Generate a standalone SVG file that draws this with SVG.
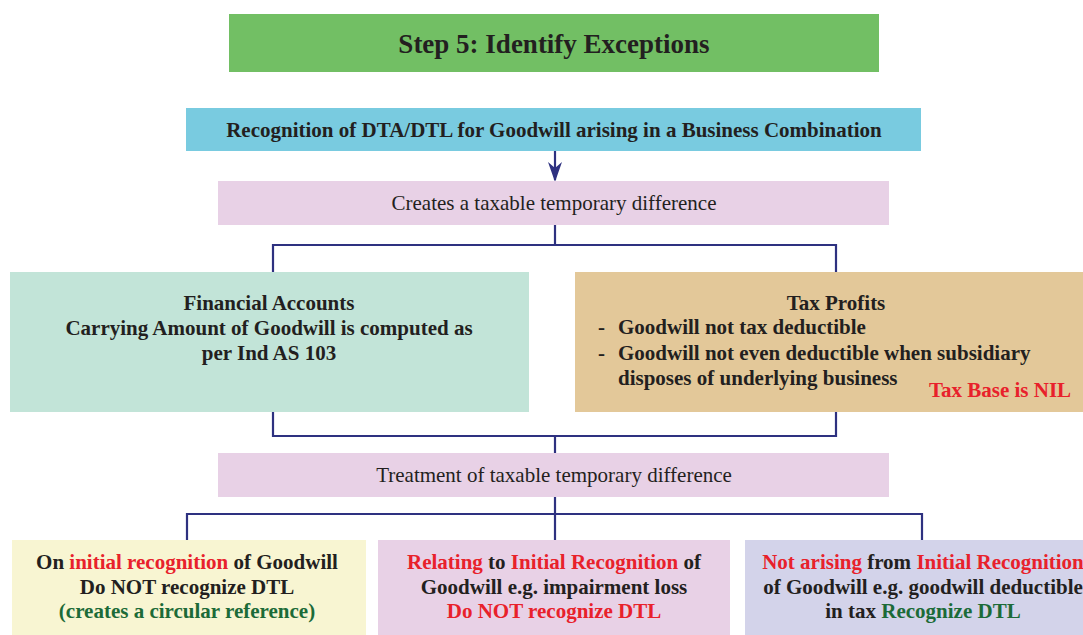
<svg xmlns="http://www.w3.org/2000/svg" width="1083" height="635" viewBox="0 0 1083 635">
<style>
text{font-family:"Liberation Serif","DejaVu Serif",serif;fill:#231f20;text-anchor:middle;}
.b{font-weight:bold;font-size:21px;}
.n{font-size:21px;}
.r{fill:#e8212b;}
.g{fill:#1c6b38;}
.ln{fill:none;stroke:#2e3180;stroke-width:2.2;}
</style>
<defs>
<marker id="ah" viewBox="0 0 10 10" refX="9" refY="5" markerWidth="20" markerHeight="14" markerUnits="userSpaceOnUse" orient="auto" preserveAspectRatio="none">
<path d="M0,0 L10,5 L0,10 L3,5 z" fill="#2e3180"/>
</marker>
</defs>
<rect width="1083" height="635" fill="#ffffff"/>
<g id="connectors">
<line class="ln" x1="555" y1="151" x2="555" y2="180" marker-end="url(#ah)"/>
<path class="ln" d="M555,225 V245 M273,272 V245 H836 V272"/>
<path class="ln" d="M273,412 V436 H836 V412 M555,436 V453"/>
<path class="ln" d="M555,497 V514 M187,540 V514 H922 V540 M555,514 V540"/>
</g>
<g id="title">
<rect x="229" y="14" width="650" height="58" fill="#72bf64"/>
<text class="b" x="554" y="53" style="font-size:27px">Step 5: Identify Exceptions</text>
</g>
<g id="recognition">
<rect x="186" y="108" width="735" height="43" fill="#79cbe0"/>
<text class="b" x="554" y="137">Recognition of DTA/DTL for Goodwill arising in a Business Combination</text>
</g>
<g id="creates">
<rect x="218" y="181" width="671" height="44" fill="#e8d1e6"/>
<text class="n" x="554" y="210">Creates a taxable temporary difference</text>
</g>
<g id="financial">
<rect x="10" y="272" width="519" height="140" fill="#c2e4d8"/>
<text class="b" x="269" y="310">Financial Accounts</text>
<text class="b" x="269" y="335">Carrying Amount of Goodwill is computed as</text>
<text class="b" x="269" y="360">per Ind AS 103</text>
</g>
<g id="tax">
<rect x="575" y="272" width="508" height="140" fill="#e3c899"/>
<text class="b" x="836" y="310">Tax Profits</text>
<text class="b" x="598" y="334" style="text-anchor:start">-</text>
<text class="b" x="618" y="334" style="text-anchor:start">Goodwill not tax deductible</text>
<text class="b" x="598" y="360" style="text-anchor:start">-</text>
<text class="b" x="618" y="360" style="text-anchor:start">Goodwill not even deductible when subsidiary</text>
<text class="b" x="618" y="385" style="text-anchor:start">disposes of underlying business</text>
<text class="b r" x="1000" y="397">Tax Base is NIL</text>
</g>
<g id="treatment">
<rect x="218" y="453" width="671" height="44" fill="#e8d1e6"/>
<text class="n" x="554" y="482">Treatment of taxable temporary difference</text>
</g>
<g id="initial">
<rect x="12" y="540" width="354" height="95" fill="#f8f5d2"/>
<text class="b" x="187" y="569">On <tspan class="r">initial recognition</tspan> of Goodwill</text>
<text class="b" x="187" y="594">Do NOT recognize DTL</text>
<text class="b g" x="187" y="618">(creates a circular reference)</text>
</g>
<g id="relating">
<rect x="378" y="540" width="352" height="95" fill="#e8d1e6"/>
<text class="b" x="554" y="569"><tspan class="r">Relating</tspan> to <tspan class="r">Initial Recognition</tspan> of</text>
<text class="b" x="554" y="594">Goodwill e.g. impairment loss</text>
<text class="b r" x="554" y="618">Do NOT recognize DTL</text>
</g>
<g id="notarising">
<rect x="745" y="540" width="338" height="95" fill="#d3d3ea"/>
<text class="b" x="923" y="569"><tspan class="r">Not arising</tspan> from <tspan class="r">Initial Recognition</tspan></text>
<text class="b" x="923" y="594">of Goodwill e.g. goodwill deductible</text>
<text class="b" x="923" y="618">in tax <tspan class="g">Recognize DTL</tspan></text>
</g>
</svg>
